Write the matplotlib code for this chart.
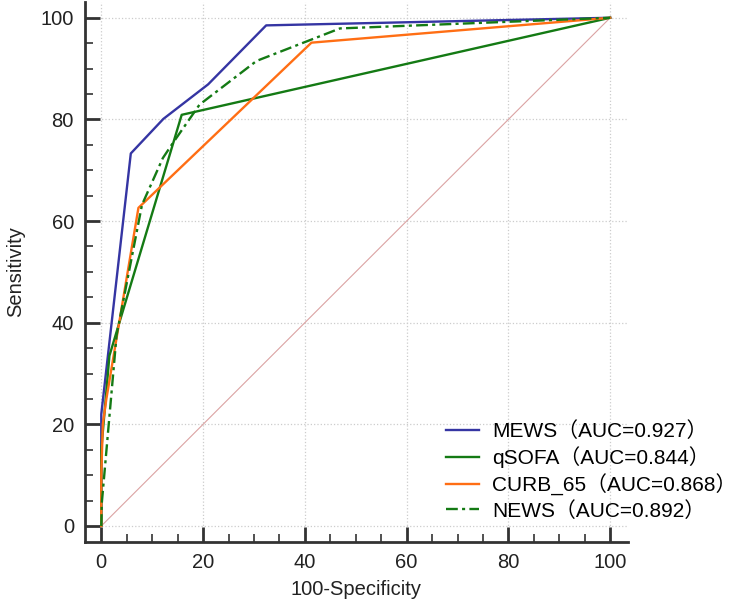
import matplotlib
matplotlib.use("Agg")
import matplotlib.pyplot as plt
from matplotlib.ticker import MultipleLocator

plt.rcParams['font.family'] = ['Liberation Sans', 'Noto Sans CJK SC', 'DejaVu Sans']

# ROC curve points (x = 100-Specificity, y = Sensitivity)
mews_x = [0, 0, 5.8, 12.2, 21.0, 32.4, 100]
mews_y = [0, 22, 73.3, 80.1, 86.9, 98.5, 100]

qsofa_x = [0, 0, 1.6, 15.8, 100]
qsofa_y = [0, 15, 33.5, 80.9, 100]

curb_x = [0, 0, 0.3, 1.0, 7.3, 41.3, 100]
curb_y = [0, 10, 20, 25, 62.6, 95.1, 100]

news_x = [0, 0.1, 3.0, 8.0, 12.1, 14.1, 19.3, 30.5, 46.9, 100]
news_y = [0, 4.5, 37.5, 63.2, 72.4, 75.4, 82.9, 91.5, 97.9, 100]

labels = ["MEWS（AUC=0.927）", "qSOFA（AUC=0.844）",
          "CURB_65（AUC=0.868）", "NEWS（AUC=0.892）"]

W, H = 735, 606
fig = plt.figure(figsize=(W / 100, H / 100), dpi=100)
ax = fig.add_axes([85 / W, 1 - 542 / H, (628 - 85) / W, (542 - 2) / H])

ax.plot([0, 100], [0, 100], color='#dba3a3', lw=0.8, zorder=1)
l1, = ax.plot(mews_x, mews_y, color='#3535a3', lw=1.7, zorder=3)
l2, = ax.plot(qsofa_x, qsofa_y, color='#147a14', lw=1.7, zorder=3)
l3, = ax.plot(curb_x, curb_y, color='#ff6e14', lw=1.7, zorder=3)
l4, = ax.plot(news_x, news_y, color='#147a14', lw=1.7, zorder=4,
              linestyle=(0, (5, 1.8, 1.3, 1.8)))

ax.set_xlim(-3.2, 103.5)
ax.set_ylim(-3.15, 103.1)
ax.xaxis.set_major_locator(MultipleLocator(20))
ax.yaxis.set_major_locator(MultipleLocator(20))
ax.xaxis.set_minor_locator(MultipleLocator(5))
ax.yaxis.set_minor_locator(MultipleLocator(5))

for s in ['top', 'right']:
    ax.spines[s].set_visible(False)
for s in ['left', 'bottom']:
    ax.spines[s].set_color('#333333')
    ax.spines[s].set_linewidth(2)

ax.tick_params(which='major', direction='in', length=11, width=2,
               color='#333333', labelsize=14.5, pad=8, labelcolor='#222222')
ax.tick_params(which='minor', direction='in', length=5.5, width=1.2,
               color='#333333')

ax.grid(True, which='major', color='#cccccc', linestyle=':', linewidth=0.9)
ax.set_axisbelow(True)

ax.set_xlabel("100-Specificity", fontsize=14.5, color='#222222', labelpad=6)
ax.set_ylabel("Sensitivity", fontsize=14.5, color='#222222', labelpad=11)

fig.legend([l1, l2, l3, l4], labels, loc='center left',
           bbox_to_anchor=(446 / W, 1 - 471 / H), frameon=False,
           fontsize=15, handlelength=1.6, handletextpad=0.6,
           labelspacing=0.25, borderpad=0, borderaxespad=0)

fig.savefig("out.png", dpi=100)
